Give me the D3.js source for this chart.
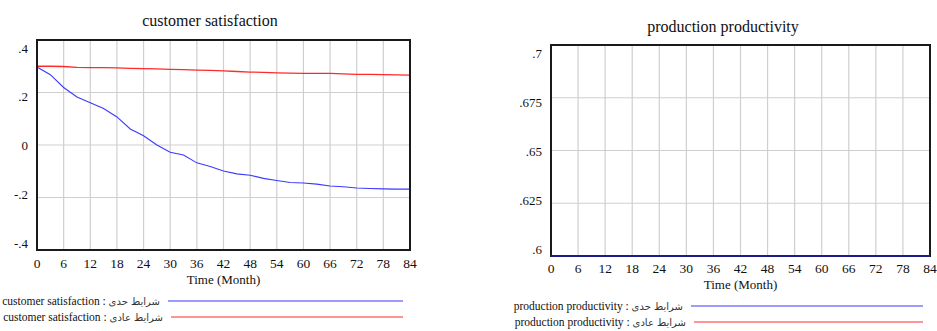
<!DOCTYPE html>
<html>
<head>
<meta charset="utf-8">
<script src="https://cdn.jsdelivr.net/npm/d3@7"></script>
<style>
    body { margin: 0; background: #fff; }
    svg { display: block; }
    text { font-family: "Liberation Serif", "DejaVu Serif", serif; fill: #111; }
</style>
</head>
<body>
<div id="chart"></div>
<script>
// time axis (months)
const months = d3.range(0, 85, 3);
const xTicks = d3.range(0, 85, 6);

// customer satisfaction, extreme conditions (blue)
const satisfactionExtreme = [
    0.297, 0.268, 0.219, 0.183, 0.161, 0.139, 0.107, 0.061, 0.035, 0.000,
    -0.028, -0.038, -0.068, -0.082, -0.099, -0.110, -0.115, -0.127, -0.135, -0.143,
    -0.145, -0.149, -0.156, -0.159, -0.164, -0.166, -0.167, -0.168, -0.168
];
// customer satisfaction, normal conditions (red)
const satisfactionNormal = [
    0.300, 0.300, 0.299, 0.296, 0.295, 0.295, 0.294, 0.292, 0.291, 0.290,
    0.288, 0.287, 0.285, 0.284, 0.282, 0.280, 0.278, 0.277, 0.275, 0.274,
    0.273, 0.273, 0.273, 0.271, 0.269, 0.269, 0.268, 0.267, 0.266
];
const satisfactionTicks = [-0.4, -0.2, 0, 0.2, 0.4];
const satisfactionTickLabels = ["-.4", "-.2", "0", ".2", ".4"];

// production productivity (both runs flat at .6)
const productivityExtreme = [
    0.6, 0.6, 0.6, 0.6, 0.6, 0.6, 0.6, 0.6, 0.6, 0.6,
    0.6, 0.6, 0.6, 0.6, 0.6, 0.6, 0.6, 0.6, 0.6, 0.6,
    0.6, 0.6, 0.6, 0.6, 0.6, 0.6, 0.6, 0.6, 0.6
];
const productivityNormal = [
    0.6, 0.6, 0.6, 0.6, 0.6, 0.6, 0.6, 0.6, 0.6, 0.6,
    0.6, 0.6, 0.6, 0.6, 0.6, 0.6, 0.6, 0.6, 0.6, 0.6,
    0.6, 0.6, 0.6, 0.6, 0.6, 0.6, 0.6, 0.6, 0.6
];
const productivityTicks = [0.6, 0.625, 0.65, 0.675, 0.7];
const productivityTickLabels = [".6", ".625", ".65", ".675", ".7"];

const runExtreme = "شرایط حدی";
const runNormal = "شرایط عادی";

const svg = d3.select("#chart").append("svg")
    .attr("width", 937)
    .attr("height", 331);

svg.append("rect").attr("width", 937).attr("height", 331).attr("fill", "#fff");

function drawPanel(cfg) {
    const g = svg.append("g");
    const xScale = d3.scaleLinear([0, 84], [cfg.left, cfg.right]);
    const yScale = d3.scaleLinear(cfg.domain, [cfg.bottom, cfg.top]);
    // vensim spreads the y labels a bit inside the frame
    const labelScale = d3.scaleLinear(cfg.domain, [cfg.bottom - 7, cfg.top + 8]);

    // title
    g.append("text")
        .attr("x", cfg.titleX)
        .attr("y", cfg.titleY)
        .attr("dy", "0.35em")
        .attr("text-anchor", "middle")
        .attr("font-size", 16)
        .text(cfg.title);

    // grid
    g.append("g")
        .selectAll("line")
        .data(xTicks.slice(1, -1))
        .join("line")
        .attr("x1", d => xScale(d)).attr("x2", d => xScale(d))
        .attr("y1", cfg.top).attr("y2", cfg.bottom)
        .attr("stroke", "#cfcfcf")
        .attr("stroke-width", 1.2);
    g.append("g")
        .selectAll("line")
        .data(cfg.ticks.slice(1, -1))
        .join("line")
        .attr("x1", cfg.left).attr("x2", cfg.right)
        .attr("y1", d => yScale(d)).attr("y2", d => yScale(d))
        .attr("stroke", "#cfcfcf")
        .attr("stroke-width", 1.2);

    // series (drawn last-first so the first run sits on top)
    cfg.series.slice().reverse().forEach(s => {
        g.append("path")
            .datum(s.values)
            .attr("fill", "none")
            .attr("stroke", s.color)
            .attr("stroke-width", s.width)
            .attr("d", d3.line()
                .x((_, i) => xScale(months[i]))
                .y(d => yScale(d))
            );
    });

    // frame
    g.append("rect")
        .attr("x", cfg.left)
        .attr("y", cfg.top)
        .attr("width", cfg.right - cfg.left)
        .attr("height", cfg.bottom - cfg.top)
        .attr("fill", "none")
        .attr("stroke", "#1a1a1a")
        .attr("stroke-width", 2);
    if (cfg.bottomLine) {
        g.append("line")
            .attr("x1", cfg.left).attr("x2", cfg.right)
            .attr("y1", yScale(cfg.domain[0])).attr("y2", yScale(cfg.domain[0]))
            .attr("stroke", cfg.bottomLine)
            .attr("stroke-width", 2);
    }

    // y labels
    g.append("g")
        .selectAll("text")
        .data(cfg.ticks)
        .join("text")
        .attr("x", cfg.left - 9)
        .attr("y", d => labelScale(d))
        .attr("dy", "0.35em")
        .attr("text-anchor", "end")
        .attr("font-size", 13)
        .text((_, i) => cfg.tickLabels[i]);

    // x labels
    g.append("g")
        .selectAll("text")
        .data(xTicks)
        .join("text")
        .attr("x", d => xScale(d))
        .attr("y", cfg.bottom + cfg.xLabelOffset)
        .attr("dy", "0.35em")
        .attr("text-anchor", "middle")
        .attr("font-size", 13.5)
        .text(d => d);

    g.append("text")
        .attr("x", (cfg.left + cfg.right) / 2)
        .attr("y", cfg.bottom + cfg.xLabelOffset + 16)
        .attr("dy", "0.35em")
        .attr("text-anchor", "middle")
        .attr("font-size", 13)
        .text("Time (Month)");

    // legend
    cfg.series.forEach((s, i) => {
        const ly = cfg.legendY[i];
        const label = g.append("text")
            .attr("x", cfg.legendTextEnd[i])
            .attr("y", ly)
            .attr("dy", "0.35em")
            .attr("text-anchor", "end")
            .attr("direction", "ltr")
            .attr("font-size", 11.5);
        label.append("tspan").text(`${cfg.title} : `);
        label.append("tspan")
            .attr("font-family", "'DejaVu Sans', sans-serif")
            .attr("font-size", 10)
            .attr("fill", "#333")
            .text(s.run);
        g.append("line")
            .attr("x1", cfg.legendTextEnd[i] + 8).attr("x2", cfg.legendLineEnd)
            .attr("y1", ly).attr("y2", ly)
            .attr("stroke", s.legendColor || s.color)
            .attr("stroke-width", 1.2);
    });
}

drawPanel({
    title: "customer satisfaction",
    titleX: 210, titleY: 20,
    left: 37, right: 410, top: 40, bottom: 250,
    domain: [-0.4, 0.4],
    ticks: satisfactionTicks,
    tickLabels: satisfactionTickLabels,
    xLabelOffset: 13,
    series: [
        { values: satisfactionExtreme, color: "#3a3aff", width: 1.1, run: runExtreme },
        { values: satisfactionNormal, color: "#ff2a2a", width: 1.3, run: runNormal }
    ],
    legendY: [301, 317],
    legendTextEnd: [160, 163],
    legendLineEnd: 403
});

drawPanel({
    title: "production productivity",
    titleX: 723, titleY: 26,
    left: 551, right: 930, top: 45, bottom: 256,
    domain: [0.6, 0.7],
    ticks: productivityTicks,
    tickLabels: productivityTickLabels,
    xLabelOffset: 12,
    series: [
        { values: productivityExtreme, color: "#3a3aff", width: 1.2, run: runExtreme },
        { values: productivityNormal, color: "#ff2a2a", width: 1.2, run: runNormal }
    ],
    bottomLine: "#1c1c8c",
    legendY: [306, 322],
    legendTextEnd: [683, 686],
    legendLineEnd: 923
});
</script>
</body>
</html>
